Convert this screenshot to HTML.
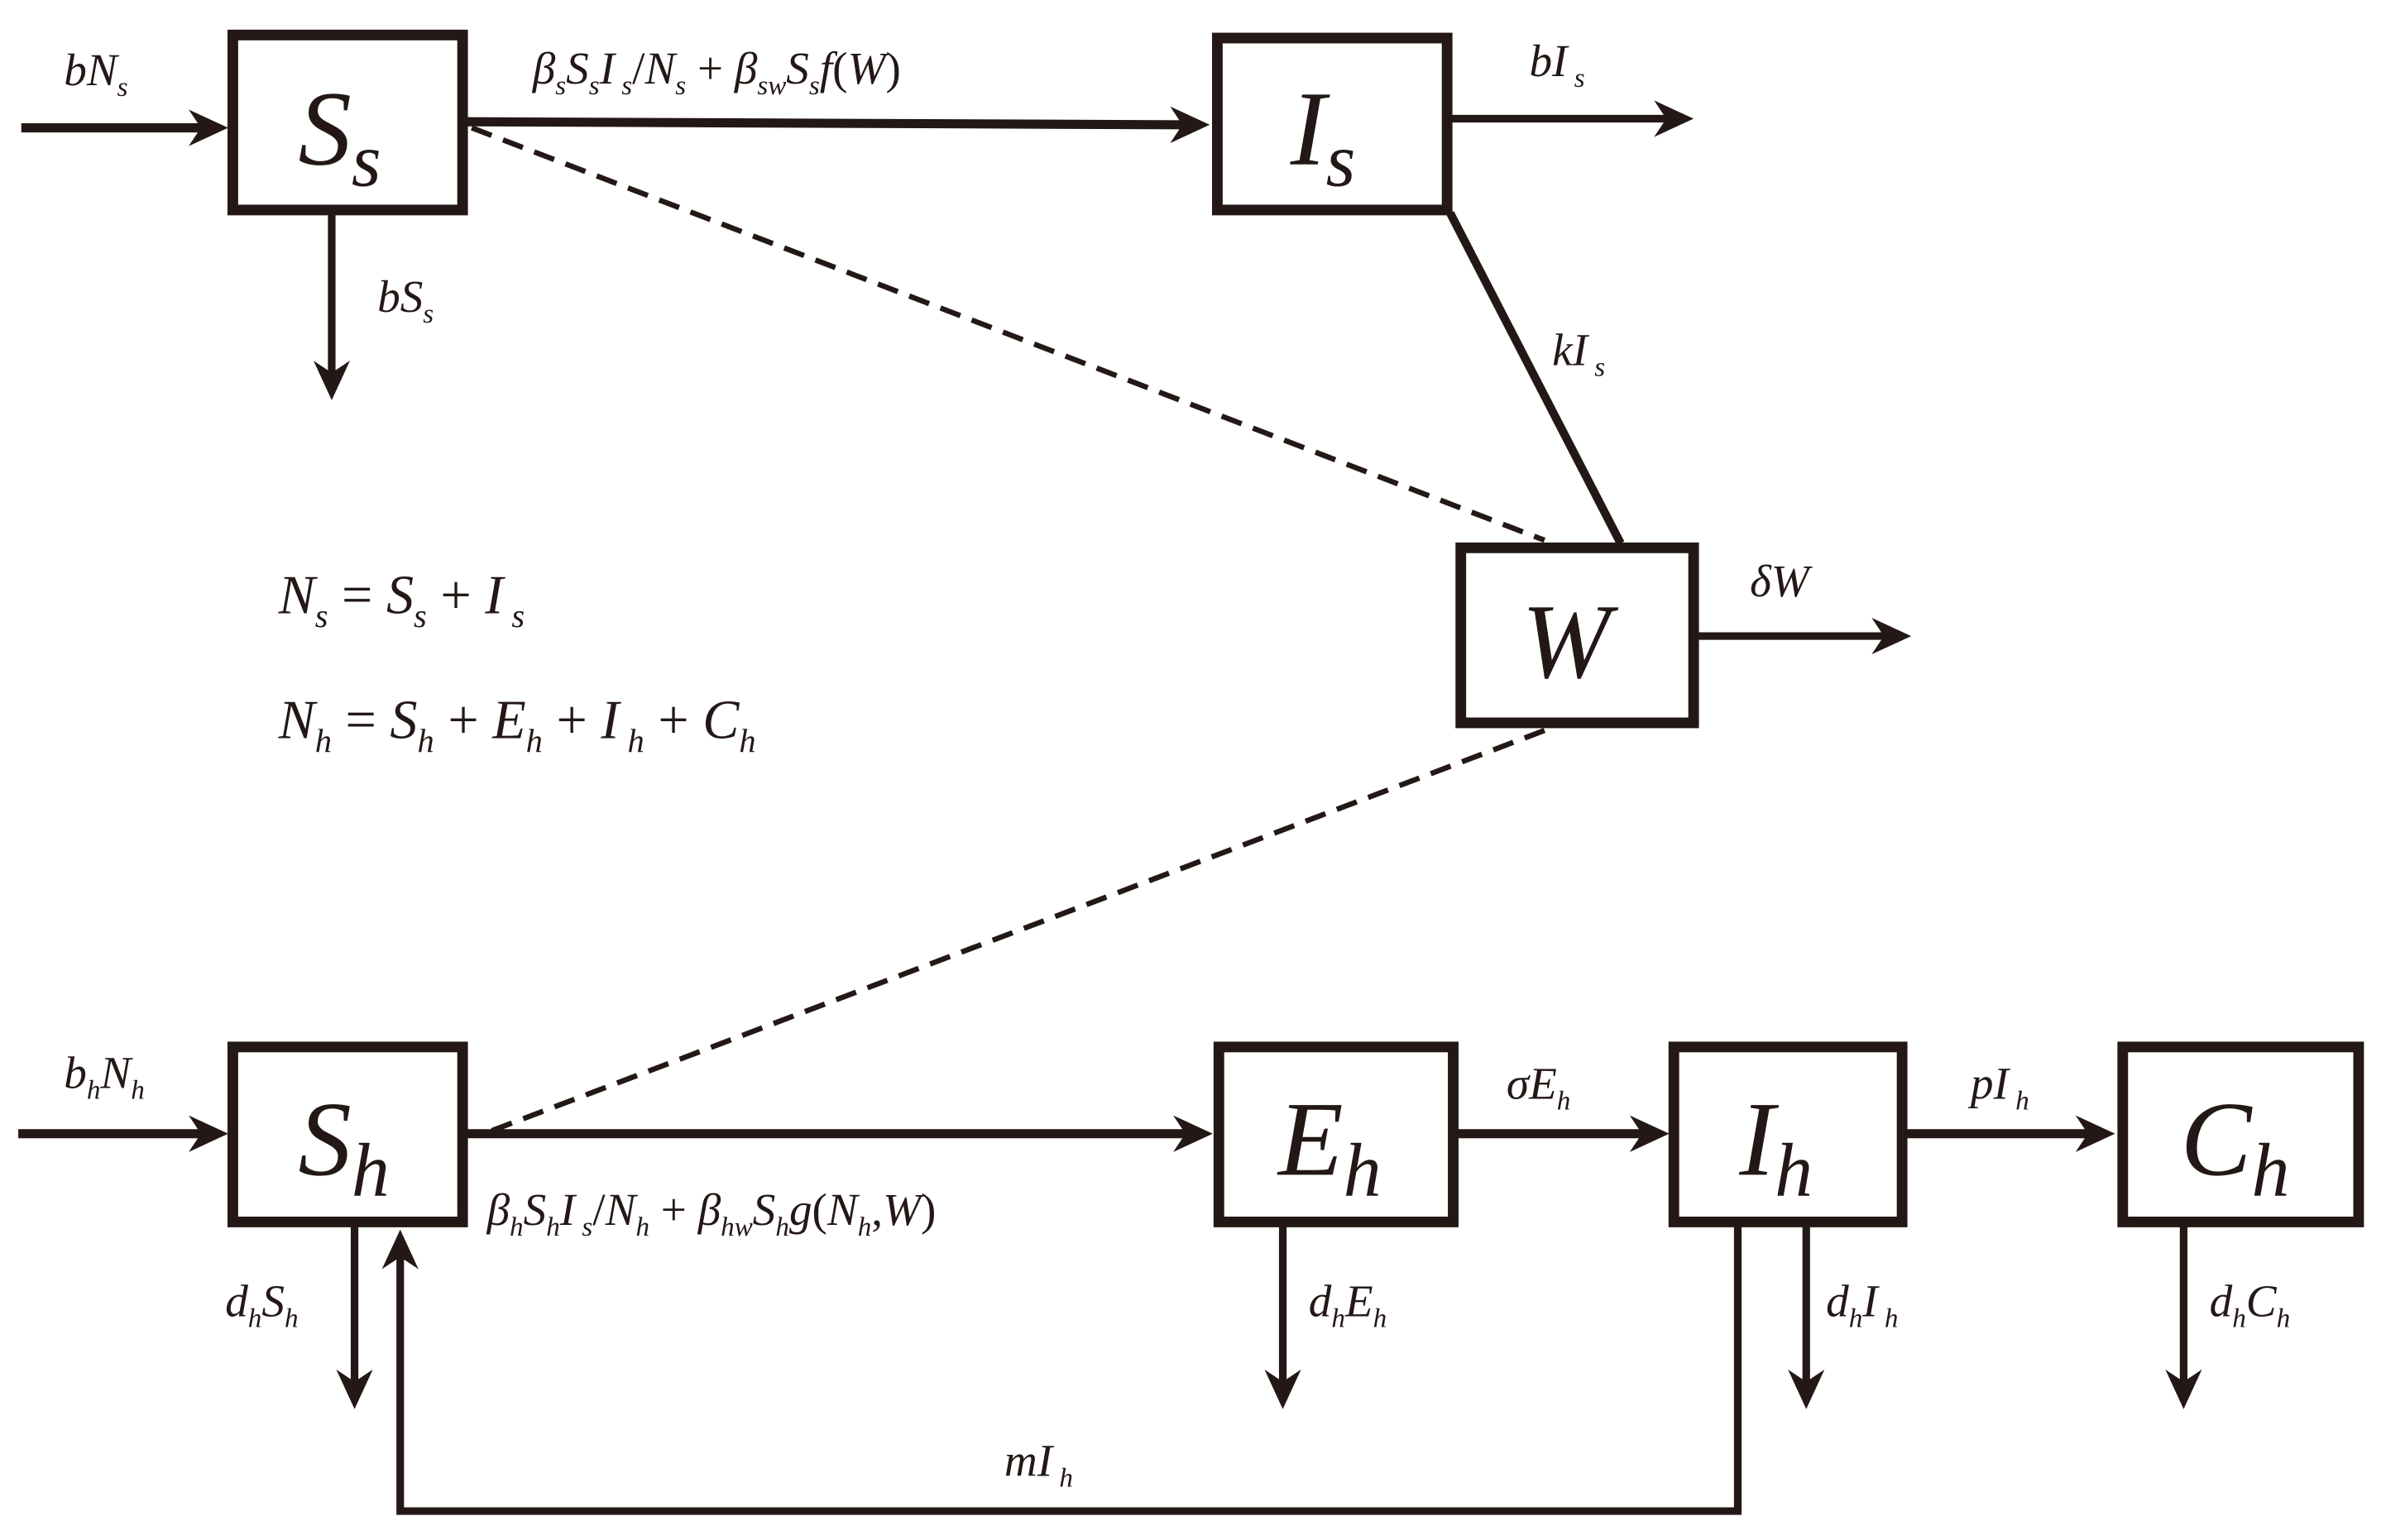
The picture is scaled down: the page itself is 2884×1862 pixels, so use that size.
<!DOCTYPE html>
<html><head><meta charset="utf-8"><style>
html,body{margin:0;padding:0;background:#fff;}
svg{display:block;}
text{font-family:"Liberation Serif",serif;font-style:italic;fill:#231815;}
</style></head><body>
<svg width="2884" height="1862" viewBox="0 0 1568 1012" preserveAspectRatio="none" xmlns="http://www.w3.org/2000/svg">
<g stroke="#231815" fill="none">
<!-- boxes -->
<rect x="153" y="23" width="151" height="115" stroke-width="7"/>
<rect x="800" y="25" width="151" height="113" stroke-width="7"/>
<rect x="960" y="360" width="153" height="115" stroke-width="7"/>
<rect x="153" y="688" width="151" height="115" stroke-width="7"/>
<rect x="801" y="688" width="154" height="115" stroke-width="7"/>
<rect x="1100" y="688" width="150" height="115" stroke-width="7"/>
<rect x="1395" y="688" width="155" height="115" stroke-width="7"/>
<!-- lines -->
<line x1="14" y1="84" x2="135" y2="84" stroke-width="6"/>
<line x1="306" y1="80" x2="780" y2="82" stroke-width="6"/>
<line x1="953" y1="78" x2="1098" y2="78" stroke-width="5"/>
<line x1="218" y1="140" x2="218" y2="248" stroke-width="5"/>
<line x1="310" y1="84" x2="1015" y2="355" stroke-width="3.5" stroke-dasharray="14,8"/>
<line x1="953" y1="140" x2="1065" y2="357" stroke-width="5.5"/>
<line x1="1115" y1="418" x2="1240" y2="418" stroke-width="5"/>
<line x1="1015" y1="480" x2="318" y2="745" stroke-width="3.5" stroke-dasharray="14,8"/>
<line x1="12" y1="745" x2="135" y2="745" stroke-width="6"/>
<line x1="306" y1="745" x2="782" y2="745" stroke-width="6"/>
<line x1="957" y1="745" x2="1082" y2="745" stroke-width="6"/>
<line x1="1252" y1="745" x2="1375" y2="745" stroke-width="6"/>
<line x1="233" y1="805" x2="233" y2="910" stroke-width="5"/>
<line x1="843" y1="805" x2="843" y2="910" stroke-width="5"/>
<line x1="1187" y1="805" x2="1187" y2="910" stroke-width="5"/>
<line x1="1435" y1="805" x2="1435" y2="910" stroke-width="5"/>
<polyline points="1142,805 1142,993 263,993 263,825" stroke-width="5"/>
</g>
<g fill="#231815">
<path d="M150 84 L124 72 L132 84 L124 96 Z"/>
<path d="M795 82 L769 70 L777 82 L769 94 Z"/>
<path d="M1113 78 L1087 66 L1095 78 L1087 90 Z"/>
<path d="M218 263 L206 237 L218 245 L230 237 Z"/>
<path d="M1256 418 L1230 406 L1238 418 L1230 430 Z"/>
<path d="M150 745 L124 733 L132 745 L124 757 Z"/>
<path d="M797 745 L771 733 L779 745 L771 757 Z"/>
<path d="M1097 745 L1071 733 L1079 745 L1071 757 Z"/>
<path d="M1390 745 L1364 733 L1372 745 L1364 757 Z"/>
<path d="M233 926 L221 900 L233 908 L245 900 Z"/>
<path d="M843 926 L831 900 L843 908 L855 900 Z"/>
<path d="M1187 926 L1175 900 L1187 908 L1199 900 Z"/>
<path d="M1435 926 L1423 900 L1435 908 L1447 900 Z"/>
<path d="M263 808 L251 834 L263 826 L275 834 Z"/>
</g>
<!-- box labels -->
<text x="196" y="108" font-size="70">S<tspan font-size="50" dy="14">s</tspan></text>
<text x="848" y="108" font-size="70">I<tspan font-size="50" dy="14">s</tspan></text>
<text x="1000" y="445" font-size="70">W</text>
<text x="196" y="772" font-size="70">S<tspan font-size="50" dy="14">h</tspan></text>
<text x="840" y="772" font-size="70">E<tspan font-size="50" dy="14">h</tspan></text>
<text x="1143" y="772" font-size="70">I<tspan font-size="50" dy="14">h</tspan></text>
<text x="1433" y="772" font-size="70">C<tspan font-size="50" dy="14">h</tspan></text>
<!-- flow labels -->
<text x="42" y="56" font-size="30">bN<tspan font-size="18" dy="7">s</tspan></text>
<text x="350" y="55" font-size="30">β<tspan font-size="18" dy="7">s</tspan><tspan dy="-7">S</tspan><tspan font-size="18" dy="7">s</tspan><tspan dy="-7">I</tspan><tspan font-size="18" dy="7"> s</tspan><tspan dy="-7" font-style="normal">/</tspan><tspan>N</tspan><tspan font-size="18" dy="7">s</tspan><tspan dy="-7" font-style="normal"> + </tspan><tspan>β</tspan><tspan font-size="18" dy="7">sw</tspan><tspan dy="-7">S</tspan><tspan font-size="18" dy="7">s</tspan><tspan dy="-7">f</tspan><tspan font-style="normal">(</tspan><tspan>W</tspan><tspan font-style="normal">)</tspan></text>
<text x="1005" y="50" font-size="30">bI<tspan font-size="18" dy="7"> s</tspan></text>
<text x="248" y="205" font-size="30">bS<tspan font-size="18" dy="7">s</tspan></text>
<text x="1020" y="240" font-size="30">kI<tspan font-size="18" dy="7"> s</tspan></text>
<text x="1150" y="392" font-size="30">δW</text>
<text x="183" y="403" font-size="36">N<tspan font-size="22" dy="9">s</tspan><tspan dy="-9" font-style="normal"> = </tspan><tspan>S</tspan><tspan font-size="22" dy="9">s</tspan><tspan dy="-9" font-style="normal"> + </tspan><tspan>I</tspan><tspan font-size="22" dy="9"> s</tspan></text>
<text x="183" y="485" font-size="36">N<tspan font-size="22" dy="9">h</tspan><tspan dy="-9" font-style="normal"> = </tspan><tspan>S</tspan><tspan font-size="22" dy="9">h</tspan><tspan dy="-9" font-style="normal"> + </tspan><tspan>E</tspan><tspan font-size="22" dy="9">h</tspan><tspan dy="-9" font-style="normal"> + </tspan><tspan>I</tspan><tspan font-size="22" dy="9"> h</tspan><tspan dy="-9" font-style="normal"> + </tspan><tspan>C</tspan><tspan font-size="22" dy="9">h</tspan></text>
<text x="42" y="715" font-size="30">b<tspan font-size="18" dy="7">h</tspan><tspan dy="-7">N</tspan><tspan font-size="18" dy="7">h</tspan></text>
<text x="320" y="805" font-size="30">β<tspan font-size="18" dy="7">h</tspan><tspan dy="-7">S</tspan><tspan font-size="18" dy="7">h</tspan><tspan dy="-7">I</tspan><tspan font-size="18" dy="7"> s</tspan><tspan dy="-7" font-style="normal">/</tspan><tspan>N</tspan><tspan font-size="18" dy="7">h</tspan><tspan dy="-7" font-style="normal"> + </tspan><tspan>β</tspan><tspan font-size="18" dy="7">hw</tspan><tspan dy="-7">S</tspan><tspan font-size="18" dy="7">h</tspan><tspan dy="-7">g</tspan><tspan font-style="normal">(</tspan><tspan>N</tspan><tspan font-size="18" dy="7">h</tspan><tspan dy="-7" font-style="normal">,</tspan><tspan>W</tspan><tspan font-style="normal">)</tspan></text>
<text x="990" y="722" font-size="30">σE<tspan font-size="18" dy="7">h</tspan></text>
<text x="1295" y="722" font-size="30">pI<tspan font-size="18" dy="7"> h</tspan></text>
<text x="148" y="865" font-size="30">d<tspan font-size="18" dy="7">h</tspan><tspan dy="-7">S</tspan><tspan font-size="18" dy="7">h</tspan></text>
<text x="860" y="865" font-size="30">d<tspan font-size="18" dy="7">h</tspan><tspan dy="-7">E</tspan><tspan font-size="18" dy="7">h</tspan></text>
<text x="1200" y="865" font-size="30">d<tspan font-size="18" dy="7">h</tspan><tspan dy="-7">I</tspan><tspan font-size="18" dy="7"> h</tspan></text>
<text x="1452" y="865" font-size="30">d<tspan font-size="18" dy="7">h</tspan><tspan dy="-7">C</tspan><tspan font-size="18" dy="7">h</tspan></text>
<text x="660" y="970" font-size="30">mI<tspan font-size="18" dy="7"> h</tspan></text>
</svg>
</body></html>
